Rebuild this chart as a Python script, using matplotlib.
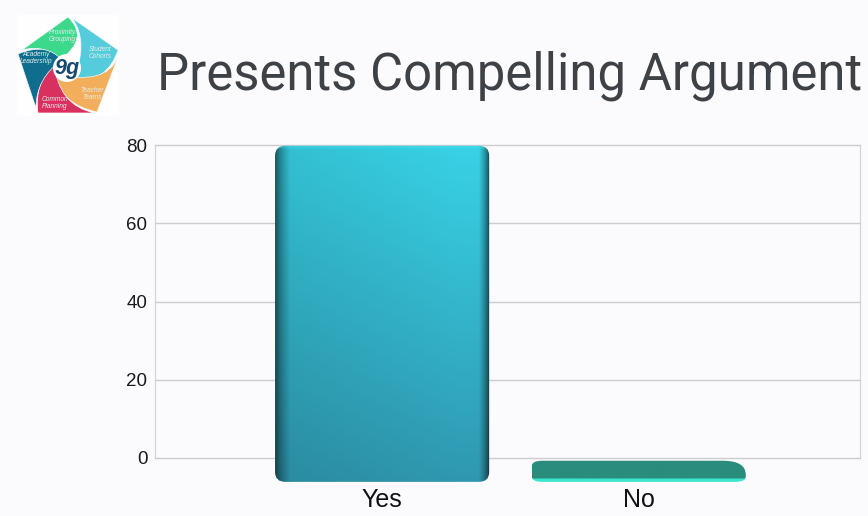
import numpy as np
import matplotlib
matplotlib.use('Agg')
from matplotlib import pyplot as plt
from matplotlib.path import Path
from matplotlib.patches import PathPatch, Circle
from matplotlib.colors import to_rgb

categories = ['Yes', 'No']
bar_tops = [79.8, -0.7]
bar_floor = -6.1
y_ticks = [0, 20, 40, 60, 80]
title = 'Presents Compelling Argument'

bg = '#FBFBFE'
W, H = 868, 516
plt.rc('font', family=['Liberation Sans', 'DejaVu Sans'])


def px_axes(fig, x0, y0, x1, y1):
    # pixel box, y counted from the top of the image
    return fig.add_axes([x0 / W, 1 - y1 / H, (x1 - x0) / W, (y1 - y0) / H])


def bar_path(x0, x1, y0, y1, rx, ry, tr=None):
    # rounded box, tr = (rx, ry) for a bigger top right corner
    trx, try_ = tr if tr else (rx, ry)
    verts = [(x0 + rx, y0), (x1 - rx, y0), (x1, y0), (x1, y0 + ry),
             (x1, y1 - try_), (x1, y1), (x1 - trx, y1),
             (x0 + rx, y1), (x0, y1), (x0, y1 - ry),
             (x0, y0 + ry), (x0, y0), (x0 + rx, y0)]
    codes = [Path.MOVETO, Path.LINETO, Path.CURVE3, Path.CURVE3,
             Path.LINETO, Path.CURVE3, Path.CURVE3,
             Path.LINETO, Path.CURVE3, Path.CURVE3,
             Path.LINETO, Path.CURVE3, Path.CURVE3]
    return Path(verts, codes)


def yes_shade():
    n, m = 340, 220
    u = np.linspace(0, 1, m)
    v = np.linspace(0, 1, n)[:, None]   # 0 at top
    top = np.array(to_rgb('#38D2E6'))
    bot = np.array(to_rgb('#2F98B0'))
    img = top * (1 - v[..., None]) + bot * v[..., None]
    img = np.repeat(img, m, axis=1)
    # dark narrow sides, brightest a bit right of the middle
    side = 0.91 + 0.09 * np.clip(u / 0.85, 0, 1)
    side = side * (0.38 + 0.62 * np.clip(u / 0.07, 0, 1) ** 0.6)
    side = side * (0.25 + 0.75 * np.clip((1 - u) / 0.05, 0, 1) ** 0.6)
    img = img * side[None, :, None]
    # bright lip along the top
    lip = np.clip(1 - v / 0.012, 0, 1)[..., None]
    img = img * (1 - 0.5 * lip) + 0.5 * lip * np.array(to_rgb('#45E4F5'))
    return np.clip(img, 0, 1)


def no_shade():
    v = np.linspace(0, 1, 100)
    img = np.zeros((100, 1, 3))
    img[:] = to_rgb('#2A8C7C')
    img[v > 0.84] = to_rgb('#3BE6CE')
    return img


fig = plt.figure(figsize=(W / 100, H / 100), dpi=100, facecolor=bg)
ax = px_axes(fig, 155, 145, 860, 458)
ax.set_facecolor(bg)

x_pos = np.arange(len(categories))
xlim = (-0.885, 1.862)
ylim = (0, 80)

for s in ['top', 'bottom']:
    ax.spines[s].set_visible(False)
ax.spines['right'].set_color('#D2D2D2')
ax.spines['left'].set_color('#D2D2D2')
ax.set_yticks(y_ticks)
ax.set_yticklabels([str(t) for t in y_ticks], fontsize=13.5, color='#1A1A1A')
ax.set_xticks(x_pos)
ax.set_xticklabels(categories, fontsize=18, color='#111111')
ax.tick_params(axis='both', length=0)
ax.tick_params(axis='y', pad=5.5)
ax.tick_params(axis='x', pad=21.5)
ax.grid(axis='y', color='#CDCDCD', lw=1, clip_on=False)
ax.set_axisbelow(True)

half = 0.417
for i, top in enumerate(bar_tops):
    x0, x1 = x_pos[i] - half, x_pos[i] + half
    if i == 0:
        p = bar_path(x0, x1, bar_floor, top, 0.04, 2.5)
        img = yes_shade()
    else:
        p = bar_path(x0, x1, bar_floor, top, 0.04, 1.4, tr=(0.09, 3.6))
        img = no_shade()
    patch = PathPatch(p, fc='none', ec='none', transform=ax.transData, clip_on=False)
    ax.add_patch(patch)
    im = ax.imshow(img, extent=(x0, x1, bar_floor, top), aspect='auto', zorder=3, interpolation='bilinear')
    im.set_clip_box(fig.bbox)
    im.set_clip_path(patch)

ax.set_xlim(xlim)
ax.set_ylim(ylim)

fig.text(157 / W, 1 - 76 / H, title, fontsize=36.6, family='Roboto', color='#3E4146', va='center', ha='left')

# logo
la = px_axes(fig, 17, 15, 119, 116)
la.set_xlim(17, 119)
la.set_ylim(116, 15)
la.axis('off')
la.add_patch(plt.Rectangle((17, 15), 102, 101, fc='#FEFEFE', ec='none'))
cx, cy = 67, 68
# outer edge a-b, curve b-c-d, curve d-e-a
logo_pieces = [
    ('#3CD98C', [(68, 17), (22, 50), (46, 44), (60, 60), (90, 38)]),
    ('#55CCDB', [(72, 18), (118, 50), (108, 82), (72, 83), (90, 42)]),
    ('#F2AE5A', [(118, 57), (97, 112), (60, 104), (55, 74), (106, 86)]),
    ('#D8305F', [(95, 113), (38, 113), (34, 84), (54, 62), (58, 106)]),
    ('#0F6E8E', [(36, 108), (18, 54), (46, 42), (62, 60), (36, 78)]),
]
for col, pts in logo_pieces:
    a, b, c, d, e = pts
    path = Path([a, b, c, d, e, a], [Path.MOVETO, Path.LINETO, Path.CURVE3, Path.CURVE3, Path.CURVE3, Path.CURVE3])
    la.add_patch(PathPatch(path, fc=col, ec='#F4F8F8', lw=0.5))
la.add_patch(Circle((cx, cy), 14, fc='white', ec='none', zorder=4))
la.text(cx, cy, '9g', fontsize=15.5, style='italic', weight='bold', color='#17486E', ha='center', va='center', zorder=5)
logo_texts = [(62, 36, 'Proximity\nGrouping'), (100, 53, 'Student\nCohorts'), (92, 94, 'Teacher\nTeams'), (55, 103, 'Common\nPlanning'), (36, 58, 'Academy\nLeadership')]
for x, y, t in logo_texts:
    la.text(x, y, t, fontsize=4.8, style='italic', color='#E4EEEA', ha='center', va='center', zorder=5, linespacing=1.1)

fig.savefig('out.png', dpi=100, facecolor=bg)
